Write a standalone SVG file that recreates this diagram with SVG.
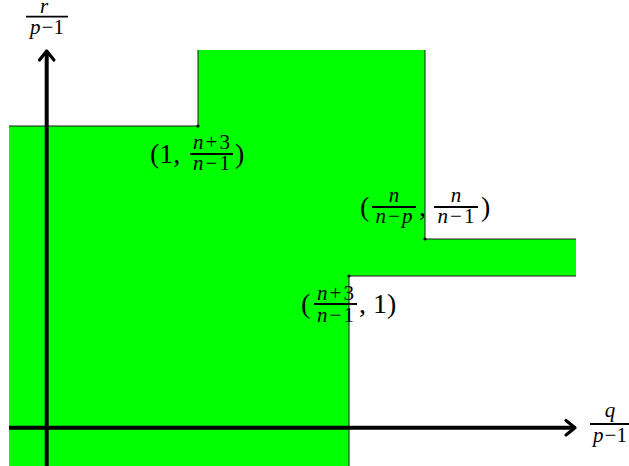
<svg xmlns="http://www.w3.org/2000/svg" width="629" height="466" viewBox="0 0 629 466">
<style>
.region{fill:#00ff00;stroke:none}
.edge{fill:none;stroke:#1a1a1a;stroke-width:1}
.axis{fill:none;stroke:#000;stroke-width:4}
.head{fill:none;stroke:#000;stroke-width:3.2;stroke-linecap:round;stroke-linejoin:round}
.dot{fill:#000}
text{font-family:"Liberation Serif","DejaVu Serif",serif;fill:#000}
.big{font-size:28px}
.fr{font-size:21px;text-anchor:middle}
.bar{stroke:#000;stroke-width:1.8}
.it{font-style:italic}
</style>
<rect width="629" height="466" fill="#fff"/>
<g id="region">
<polygon class="region" points="9,126 198,126 198,50 425,50 425,239 576,239 576,276 349,276 349,466 9,466"/>
<path class="edge" d="M9,126 H198 V50 M425,50 V239 H576 M576,276 H349 V466"/>
<circle class="dot" cx="198" cy="126" r="1.6"/>
<circle class="dot" cx="425" cy="239" r="1.6"/>
<circle class="dot" cx="349" cy="276" r="1.6"/>
</g>
<g id="connectors">
<line class="axis" x1="9" y1="427.7" x2="573" y2="427.7"/>
<path class="head" d="M566,420.5 L575,427.7 L566,434.9"/>
<line class="axis" x1="46.7" y1="466" x2="46.7" y2="53"/>
<path class="head" d="M39.5,60 L46.7,51 L53.9,60"/>
</g>
<g id="label-y">
<text class="fr" x="44" y="13"><tspan class="it">r</tspan></text>
<line class="bar" x1="26" y1="16.7" x2="68" y2="16.7"/>
<text class="fr" x="47" y="34"><tspan class="it">p</tspan><tspan dx="1">−1</tspan></text>
</g>
<g id="label-x">
<text class="fr" x="610" y="417"><tspan class="it">q</tspan></text>
<line class="bar" x1="590" y1="424" x2="629" y2="424"/>
<text class="fr" x="610" y="442"><tspan class="it">p</tspan><tspan dx="1">−1</tspan></text>
</g>
<g id="point-1">
<text class="big" x="150" y="163">(1,</text>
<text class="fr" x="211.5" y="149"><tspan class="it">n</tspan><tspan dx="2">+</tspan><tspan dx="2">3</tspan></text>
<line class="bar" x1="190" y1="154" x2="233" y2="154"/>
<text class="fr" x="211.5" y="170"><tspan class="it">n</tspan><tspan dx="2">−</tspan><tspan dx="2">1</tspan></text>
<text class="big" x="235" y="163">)</text>
</g>
<g id="point-2">
<text class="big" x="360" y="216">(</text>
<text class="fr" x="394" y="202"><tspan class="it">n</tspan></text>
<line class="bar" x1="372" y1="207" x2="416" y2="207"/>
<text class="fr" x="394" y="223"><tspan class="it">n</tspan><tspan dx="2">−</tspan><tspan dx="2" class="it">p</tspan></text>
<text class="big" x="419" y="216">,</text>
<text class="fr" x="456" y="202"><tspan class="it">n</tspan></text>
<line class="bar" x1="434" y1="207" x2="478" y2="207"/>
<text class="fr" x="456" y="223"><tspan class="it">n</tspan><tspan dx="2">−</tspan><tspan dx="2">1</tspan></text>
<text class="big" x="481" y="216">)</text>
</g>
<g id="point-3">
<text class="big" x="301" y="313">(</text>
<text class="fr" x="335.5" y="300"><tspan class="it">n</tspan><tspan dx="2">+</tspan><tspan dx="2">3</tspan></text>
<line class="bar" x1="314" y1="304" x2="357" y2="304"/>
<text class="fr" x="335.5" y="322"><tspan class="it">n</tspan><tspan dx="2">−</tspan><tspan dx="2">1</tspan></text>
<text class="big" x="359" y="313">, 1)</text>
</g>
</svg>
